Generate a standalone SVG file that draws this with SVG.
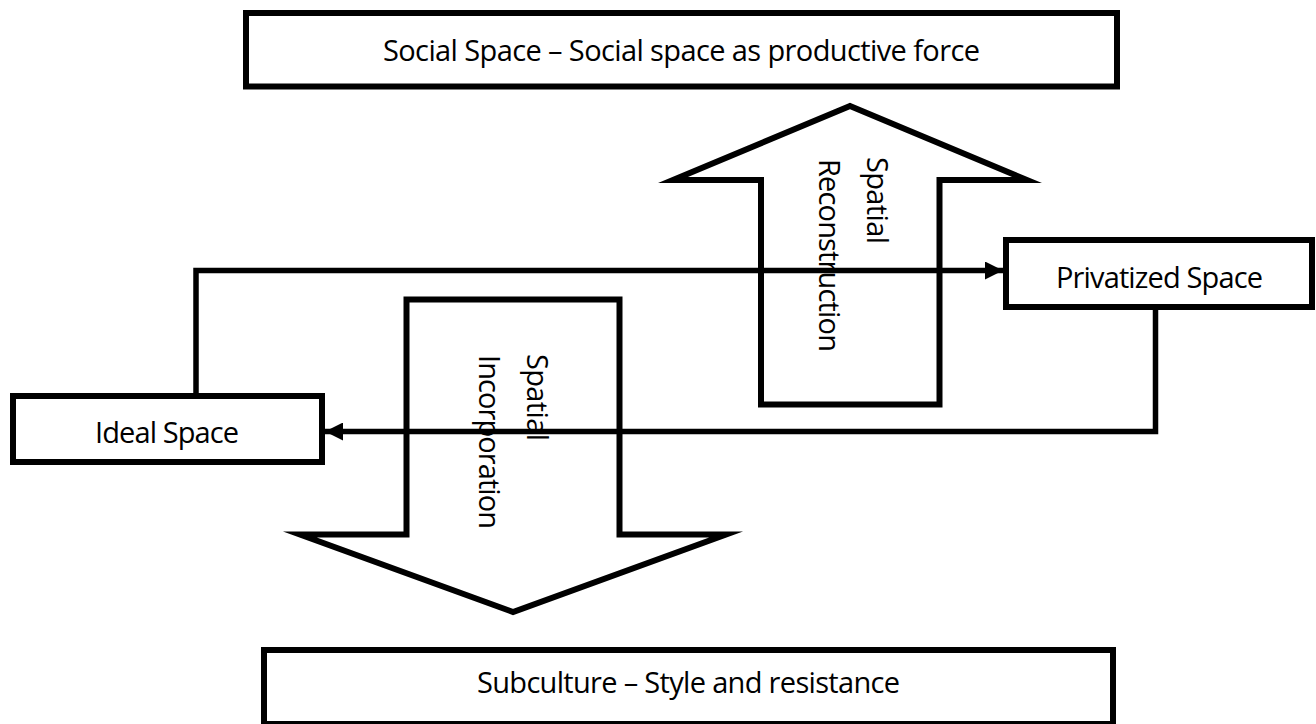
<svg xmlns="http://www.w3.org/2000/svg" width="1316" height="724" viewBox="0 0 1316 724">
  <style>
    .box { fill: #ffffff; stroke: #000000; stroke-width: 6; }
    .blk { fill: #ffffff; stroke: #000000; stroke-width: 6; stroke-linejoin: miter; stroke-miterlimit: 10; }
    .lbl { font-family: "Open Sans", "Liberation Sans", sans-serif; font-size: 29px; fill: #000000; }
    .wire { fill: none; stroke: #000000; stroke-width: 5.5; }
  </style>
  <defs>
    <marker id="tri" viewBox="0 0 18 18" refX="18" refY="9" markerWidth="18" markerHeight="18" markerUnits="userSpaceOnUse" orient="auto">
      <path d="M0,0 L18,9 L0,18 Z" fill="#000000"/>
    </marker>
  </defs>
  <rect width="1316" height="724" fill="#ffffff"/>

  <g id="social-space">
    <rect class="box" x="246" y="13" width="871" height="73.5"/>
    <text class="lbl" x="383" y="61" textLength="597">Social Space – Social space as productive force</text>
  </g>

  <g id="subculture">
    <rect class="box" x="264" y="650" width="849" height="74"/>
    <text class="lbl" x="477" y="693" textLength="423">Subculture – Style and resistance</text>
  </g>

  <g id="ideal-space">
    <rect class="box" x="13" y="396" width="309" height="66"/>
    <text class="lbl" x="95" y="443" textLength="144">Ideal Space</text>
  </g>

  <g id="privatized-space">
    <rect class="box" x="1006" y="240" width="306" height="67"/>
    <text class="lbl" x="1056" y="288" textLength="207">Privatized Space</text>
  </g>

  <g id="spatial-reconstruction">
    <path class="blk" d="M850,106 L1027,180 L939.5,180 L939.5,404.5 L761,404.5 L761,180 L673,180 Z"/>
    <text class="lbl" transform="translate(867,157) rotate(90)" textLength="87">Spatial</text>
    <text class="lbl" transform="translate(819,159) rotate(90)" textLength="193">Reconstruction</text>
  </g>

  <g id="spatial-incorporation">
    <path class="blk" d="M406.5,299.5 L619.5,299.5 L619.5,534.5 L726,534.5 L513,612 L300,534.5 L406.5,534.5 Z"/>
    <text class="lbl" transform="translate(527,354) rotate(90)" textLength="87">Spatial</text>
    <text class="lbl" transform="translate(479,355) rotate(90)" textLength="174">Incorporation</text>
  </g>

  <g id="connectors">
    <path class="wire" d="M196,393 L196,270.5 L1003,270.5" marker-end="url(#tri)"/>
    <path class="wire" d="M1155.5,310 L1155.5,431.5 L325,431.5" marker-end="url(#tri)"/>
  </g>
</svg>
